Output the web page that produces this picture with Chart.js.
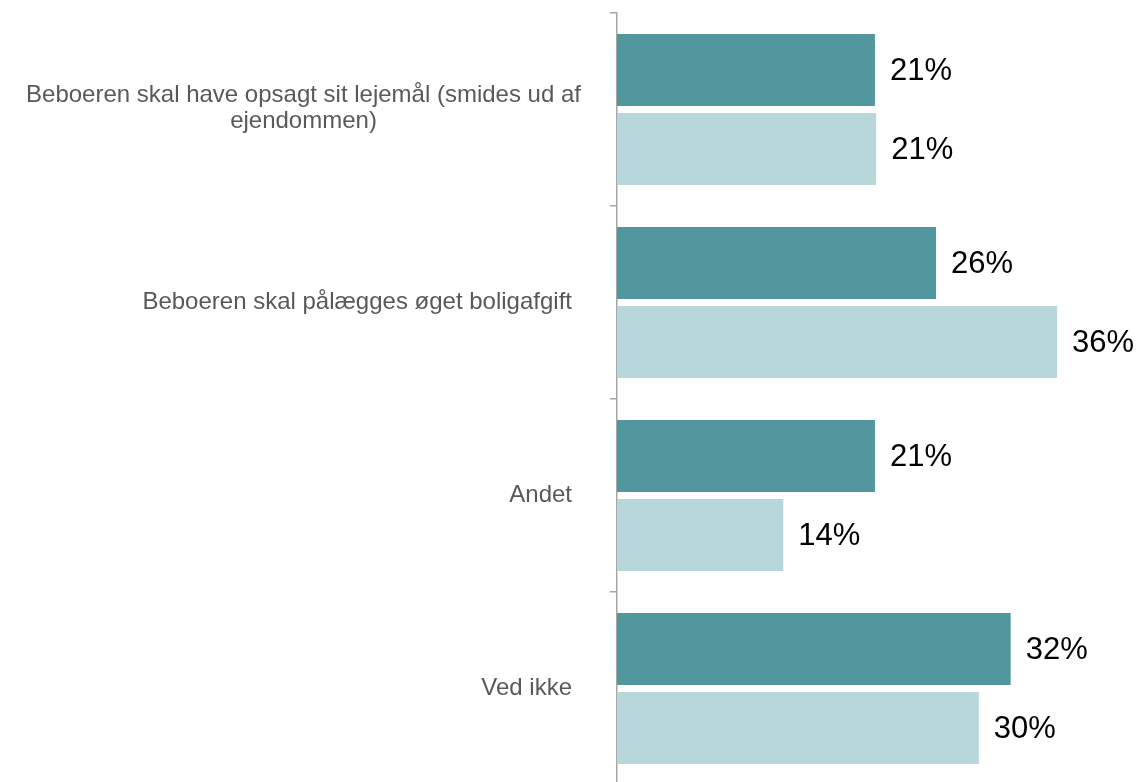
<!DOCTYPE html>
<html>
<head>
<meta charset="utf-8">
<script src="https://cdn.jsdelivr.net/npm/chart.js@4.4.1/dist/chart.umd.min.js"></script>
<style>
  html, body { margin: 0; padding: 0; background: #fff; overflow: hidden; }
  #wrap { width: 1144px; height: 786px; position: relative; }
</style>
</head>
<body>
<div id="wrap"><canvas id="chart"></canvas></div>
<script>
// Chart data
const categories = [
  ["Beboeren skal have opsagt sit lejemål (smides ud af", "ejendommen)"],
  ["Beboeren skal pålægges øget boligafgift"],
  ["Andet"],
  ["Ved ikke"]
];
const seriesDark = [21.1, 26.1, 21.1, 32.2];
const seriesLight = [21.2, 36.0, 13.6, 29.6];

const AXIS_LEFT = 617;

// Draws the percent label at the end of each bar
const barLabels = {
  id: "barLabels",
  afterDatasetsDraw(chart) {
    const ctx = chart.ctx;
    ctx.save();
    ctx.font = "31px 'Liberation Sans', Arial, sans-serif";
    ctx.fillStyle = "#000";
    ctx.textAlign = "left";
    ctx.textBaseline = "middle";
    chart.data.datasets.forEach((ds, i) => {
      chart.getDatasetMeta(i).data.forEach((bar, j) => {
        ctx.fillText(Math.round(ds.data[j]) + "%", bar.x + 15, bar.y + 1);
      });
    });
    ctx.restore();
  }
};

// Category labels, right aligned; wrapped ones centered like the original
const catLabels = {
  id: "catLabels",
  afterDraw(chart) {
    const ctx = chart.ctx;
    const y = chart.scales.y;
    const lineH = 26;
    ctx.save();
    ctx.font = "24px 'Liberation Sans', Arial, sans-serif";
    ctx.fillStyle = "#595959";
    ctx.textBaseline = "middle";
    categories.forEach((lines, i) => {
      const cy = y.getPixelForValue(i);
      const top = cy - 1.5 - (lines.length - 1) * lineH / 2;
      if (lines.length === 1) {
        ctx.textAlign = "right";
        ctx.fillText(lines[0], AXIS_LEFT - 45, cy);
      } else {
        let w = 0;
        lines.forEach(l => { w = Math.max(w, ctx.measureText(l).width); });
        ctx.textAlign = "center";
        lines.forEach((l, k) => {
          ctx.fillText(l, AXIS_LEFT - 36 - w / 2, top + k * lineH);
        });
      }
    });
    ctx.restore();
  }
};

new Chart(document.getElementById("chart"), {
  type: "bar",
  data: {
    labels: categories.map(c => c.join(" ")),
    datasets: [
      {
        data: seriesDark,
        backgroundColor: "#53979e",
        categoryPercentage: 0.819,
        barPercentage: 0.911
      },
      {
        data: seriesLight,
        backgroundColor: "#b8d7da",
        categoryPercentage: 0.819,
        barPercentage: 0.911
      }
    ]
  },
  options: {
    indexAxis: "y",
    responsive: true,
    maintainAspectRatio: false,
    animation: false,
    layout: { padding: { top: 13, bottom: 1, left: 0, right: 38 } },
    plugins: {
      legend: { display: false },
      tooltip: { enabled: false }
    },
    scales: {
      x: {
        display: false,
        min: 0,
        max: 40
      },
      y: {
        afterFit(axis) { axis.width = AXIS_LEFT; },
        ticks: { display: false },
        grid: {
          offset: true,
          drawOnChartArea: false,
          drawTicks: true,
          tickLength: 7,
          color: "#a6a6a6",
          lineWidth: 1.5
        },
        border: { display: true, color: "#a6a6a6", width: 1.5 }
      }
    }
  },
  plugins: [barLabels, catLabels]
});
</script>
</body>
</html>
